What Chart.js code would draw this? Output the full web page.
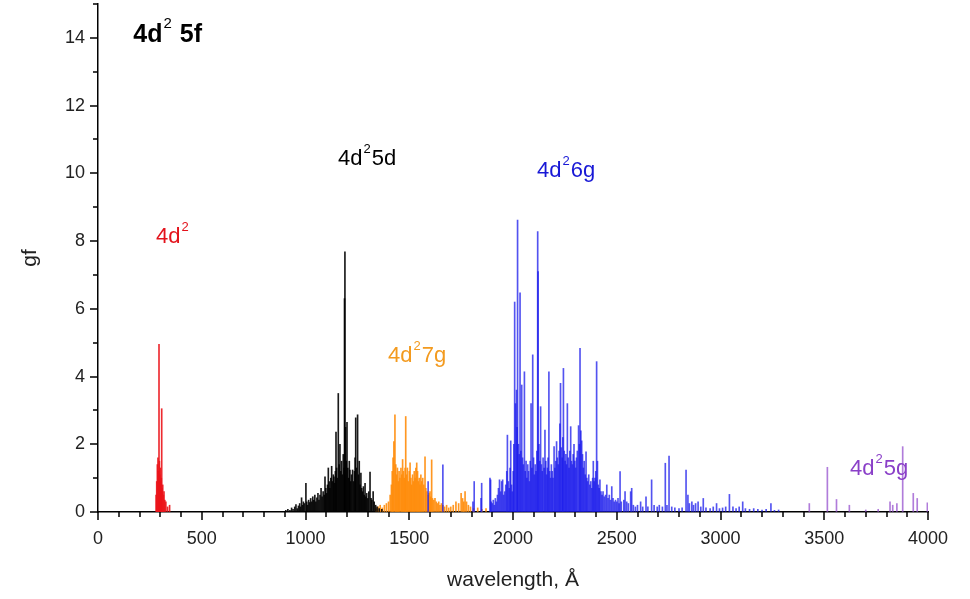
<!DOCTYPE html>
<html>
<head>
<meta charset="utf-8">
<script src="https://cdn.jsdelivr.net/npm/chart.js@4.4.1/dist/chart.umd.min.js"></script>
<style>
  html, body { margin: 0; padding: 0; background: #fff; }
  canvas { display: block; }
</style>
</head>
<body>
<canvas id="spectrum" width="970" height="599"></canvas>
<script>
// 4d2 (red)
var redWl = [280, 283, 286, 289, 291, 294, 296, 298, 300, 302, 305, 307, 309, 312, 315, 318, 322, 327, 335, 345];
var redGf = [0.5, 0.9, 1.4, 1.6, 1.2, 4.95, 1.5, 1.1, 1.3, 0.9, 1.0, 3.05, 0.7, 0.8, 0.5, 0.6, 0.35, 0.3, 0.15, 0.2];

// 4d2 5d (black)
var blackWl = [905, 915, 925, 933, 940, 948, 954, 960, 966, 972, 976, 981, 986, 990, 995, 1002, 1006, 1010, 1015, 1020,
  1025, 1030, 1035, 1040, 1045, 1050, 1055, 1060, 1065, 1070, 1075, 1080, 1085, 1090, 1094, 1098, 1102, 1106, 1110, 1114,
  1118, 1122, 1126, 1130, 1134, 1137, 1141, 1144, 1147, 1150, 1154, 1158, 1162, 1166, 1170, 1174, 1178, 1182, 1186, 1188,
  1190, 1193, 1196, 1200, 1204, 1208, 1211, 1214, 1218, 1222, 1227, 1232, 1236, 1239, 1242, 1246, 1251, 1255, 1259, 1263,
  1267, 1271, 1275, 1279, 1283, 1287, 1291, 1295, 1300, 1305, 1311, 1316, 1320, 1326, 1331, 1338, 1345, 1355, 1368];
var blackGf = [0.05, 0.08, 0.05, 0.12, 0.08, 0.15, 0.22, 0.1, 0.18, 0.25, 0.15, 0.42, 0.2, 0.3, 0.25, 0.85, 0.3, 0.2, 0.35, 0.28,
  0.4, 0.3, 0.45, 0.35, 0.5, 0.3, 0.42, 0.55, 0.35, 0.5, 0.7, 0.45, 0.6, 0.5, 1.04, 0.7, 0.55, 0.8, 1.3, 0.9,
  0.7, 1.0, 1.35, 0.9, 1.1, 1.04, 0.85, 1.2, 2.36, 1.3, 1.0, 3.5, 1.4, 2.0, 1.2, 1.5, 1.1, 1.7, 1.3, 6.3,
  7.68, 2.5, 1.5, 2.65, 1.3, 1.0, 1.5, 1.24, 0.9, 1.1, 1.24, 0.9, 1.2, 1.6, 2.78, 1.3, 2.87, 1.1, 1.5, 0.8,
  1.15, 0.7, 0.6, 0.75, 0.5, 0.85, 0.45, 0.55, 0.4, 0.6, 1.18, 0.4, 0.35, 0.6, 0.3, 0.2, 0.15, 0.1, 0.08];

// 4d2 7g (orange)
var orangeWl = [1340, 1350, 1360, 1370, 1380, 1390, 1400, 1408, 1414, 1418, 1422, 1426, 1431, 1435, 1439, 1443, 1447, 1451, 1455, 1460,
  1464, 1468, 1472, 1476, 1480, 1483, 1487, 1491, 1495, 1500, 1504, 1508, 1512, 1516, 1520, 1524, 1528, 1532, 1536, 1540,
  1544, 1548, 1552, 1556, 1560, 1565, 1570, 1576, 1580, 1585, 1591, 1596, 1600, 1604, 1608, 1612, 1618, 1624, 1630, 1636,
  1642, 1648, 1655, 1662, 1670, 1680, 1690, 1700, 1712, 1725, 1738, 1750, 1757, 1763, 1769, 1776, 1785, 1795, 1810, 1830, 1850, 1870];
var orangeGf = [0.1, 0.15, 0.2, 0.12, 0.2, 0.25, 0.3, 0.5, 0.8, 1.2, 1.6, 2.08, 2.87, 1.4, 1.1, 1.3, 0.9, 1.2, 1.0, 1.3,
  1.1, 1.55, 1.2, 1.0, 1.3, 2.82, 1.1, 1.3, 0.9, 1.2, 1.45, 1.0, 0.8, 1.1, 0.9, 1.2, 1.0, 1.3, 1.45, 1.2,
  0.9, 1.0, 0.8, 1.1, 0.9, 1.0, 0.8, 1.63, 0.7, 0.6, 0.5, 0.55, 0.6, 0.45, 1.54, 0.4, 0.35, 0.4, 0.3, 0.25,
  0.3, 0.2, 0.25, 0.2, 0.15, 0.2, 0.12, 0.15, 0.2, 0.3, 0.25, 0.55, 0.4, 0.3, 0.6, 0.3, 0.2, 0.15, 0.1, 0.12, 0.08, 0.1];

// 4d2 6g (blue)
var blueWl = [1591, 1662, 1807, 1813, 1846, 1849, 1889, 1892, 1895, 1900, 1905, 1910, 1915, 1920, 1925, 1930, 1935, 1940, 1945, 1950,
  1955, 1960, 1965, 1970, 1973, 1978, 1982, 1986, 1989, 1993, 1997, 2001, 2004, 2008, 2012, 2017, 2020, 2022, 2026, 2030,
  2034, 2038, 2042, 2046, 2050, 2055, 2059, 2063, 2067, 2071, 2075, 2079, 2083, 2087, 2091, 2095, 2099, 2103, 2107, 2111,
  2115, 2119, 2121, 2125, 2129, 2133, 2137, 2141, 2145, 2150, 2154, 2158, 2162, 2166, 2169, 2173, 2177, 2181, 2185, 2189,
  2193, 2198, 2202, 2206, 2210, 2214, 2218, 2222, 2226, 2229, 2233, 2237, 2240, 2243, 2247, 2251, 2255, 2258, 2262, 2266,
  2270, 2274, 2278, 2282, 2286, 2290, 2294, 2298, 2302, 2306, 2310, 2316, 2320, 2323, 2327, 2331, 2335, 2339, 2343, 2348,
  2352, 2356, 2360, 2365, 2370, 2375, 2380, 2384, 2387, 2391, 2395, 2399, 2403, 2407, 2411, 2415, 2419, 2424, 2429, 2434,
  2440, 2446, 2452, 2458, 2464, 2470, 2476, 2482, 2488, 2494, 2500, 2506, 2511, 2516, 2522, 2534, 2540, 2548, 2556, 2567,
  2572, 2580, 2590, 2600, 2615, 2625, 2641, 2650, 2668, 2680, 2695, 2705, 2720, 2734, 2742, 2752, 2765, 2780, 2800, 2815,
  2834, 2843, 2850, 2862, 2870, 2880, 2892, 2905, 2917, 2930, 2950, 2965, 2981, 2995, 3010, 3025, 3043, 3060, 3075, 3090,
  3107, 3120, 3140, 3160, 3180, 3200, 3220, 3243, 3260, 3280];
var blueGf = [0.9, 1.39, 0.3, 0.9, 0.4, 0.85, 1.0, 0.95, 0.3, 0.25, 0.35, 0.2, 0.4, 0.3, 0.5, 0.7, 0.95, 0.6, 0.9, 0.95,
  0.5, 0.6, 0.8, 1.2, 2.27, 0.9, 0.7, 1.3, 2.1, 0.8, 0.6, 1.2, 2.0, 6.2, 3.2, 3.6, 2.5, 8.62, 2.0, 1.7,
  6.47, 1.8, 3.75, 1.6, 1.4, 4.14, 1.2, 1.5, 1.0, 1.4, 1.2, 0.9, 1.5, 3.2, 1.3, 4.64, 1.6, 1.1, 1.4, 1.2,
  1.8, 8.28, 7.1, 2.0, 1.5, 3.11, 1.4, 1.2, 1.6, 1.3, 2.42, 1.5, 1.1, 1.3, 1.6, 4.14, 1.2, 1.0, 1.4, 1.2,
  1.0, 1.93, 1.3, 1.5, 2.08, 1.6, 1.4, 1.8, 2.6, 3.8, 1.9, 1.6, 2.2, 4.24, 1.8, 1.5, 1.7, 1.4, 3.2, 1.6,
  1.3, 1.8, 2.52, 1.5, 1.4, 1.7, 2.0, 1.5, 1.3, 1.6, 1.8, 2.55, 2.0, 4.83, 2.4, 2.1, 1.7, 1.3, 1.5, 1.1,
  1.78, 1.0, 0.9, 1.1, 0.8, 0.9, 0.7, 1.0, 1.5, 0.9, 1.0, 1.2, 4.44, 1.5, 0.8, 0.7, 0.95, 0.6, 0.5, 0.6,
  0.45, 0.5, 0.8, 0.4, 0.5, 0.35, 0.75, 0.4, 0.3, 0.35, 0.3, 0.4, 0.25, 1.19, 0.3, 0.35, 0.6, 0.3, 0.25, 0.6,
  0.7, 0.2, 0.15, 0.2, 0.3, 0.15, 0.45, 0.15, 0.95, 0.2, 0.15, 0.2, 0.15, 1.44, 0.2, 1.65, 0.15, 0.12, 0.1, 0.12,
  1.24, 0.5, 0.25, 0.3, 0.2, 0.25, 0.3, 0.15, 0.4, 0.12, 0.1, 0.15, 0.25, 0.1, 0.12, 0.15, 0.52, 0.15, 0.1, 0.15,
  0.3, 0.1, 0.08, 0.1, 0.08, 0.06, 0.08, 0.25, 0.05, 0.06];

// 4d2 5g (purple)
var purpleWl = [3428, 3515, 3559, 3621, 3700, 3760, 3817, 3830, 3850, 3878, 3929, 3948, 3997];
var purpleGf = [0.25, 1.32, 0.37, 0.2, 0.06, 0.08, 0.3, 0.2, 0.25, 1.93, 0.55, 0.4, 0.27];

// configuration labels: text parts, anchor wavelength, anchor gf
var labelNames = [['4d', '2', ' 5f'], ['4d', '2', ''], ['4d', '2', '5d'], ['4d', '2', '6g'], ['4d', '2', '7g'], ['4d', '2', '5g']];
var labelWl = [170, 280, 1157, 2116, 1398, 3624];
var labelGf = [13.88, 7.94, 10.25, 9.9, 4.43, 1.09];
var labelColors = ['#000000', '#e3121b', '#000000', '#1818d6', '#f39a1e', '#8a3fc8'];

var FONT = "'Liberation Sans', Arial, sans-serif";

function sticks(wl, gf) {
  return wl.map(function (w, i) { return { x: w, y: gf[i] }; });
}

function series(name, wl, gf, color) {
  return {
    label: name,
    data: sticks(wl, gf),
    backgroundColor: color,
    borderWidth: 0,
    barThickness: 1,
    grouped: false
  };
}

// all tick marks drawn here: majors long, minors short, pointing outward
var axisTicks = {
  id: 'axisTicks',
  afterDraw: function (chart) {
    var c = chart.ctx, xs = chart.scales.x, ys = chart.scales.y;
    var area = chart.chartArea;
    c.save();
    c.strokeStyle = '#000';
    c.lineWidth = 1.5;
    c.beginPath();
    for (var v = 0; v <= 4000; v += 100) {
      var len = v % 500 === 0 ? 8 : 5;
      var px = Math.round(xs.getPixelForValue(v));
      c.moveTo(px, area.bottom);
      c.lineTo(px, area.bottom + len);
    }
    for (var g = 0; g <= 15; g += 1) {
      var l = g % 2 === 0 ? 8 : 5;
      var py = Math.round(ys.getPixelForValue(g));
      c.moveTo(area.left, py);
      c.lineTo(area.left - l, py);
    }
    c.stroke();

    // configuration labels
    c.textBaseline = 'alphabetic';
    labelNames.forEach(function (parts, i) {
      var x = xs.getPixelForValue(labelWl[i]);
      var y = ys.getPixelForValue(labelGf[i]);
      var bold = i === 0;
      var size = bold ? 25 : 22;
      var base = (bold ? 'bold ' : '') + size + 'px ' + FONT;
      var sup = Math.round(size * 0.6) + 'px ' + FONT;
      c.fillStyle = labelColors[i];
      c.font = base;
      c.fillText(parts[0], x, y);
      x += c.measureText(parts[0]).width + 1;
      c.font = sup;
      c.fillText(parts[1], x, y - size * 0.55);
      x += c.measureText(parts[1]).width + 1;
      c.font = base;
      c.fillText(parts[2], x, y);
    });
    c.restore();
  }
};

var ctx = document.getElementById('spectrum').getContext('2d');
var spectrumChart = new Chart(ctx, {
  type: 'bar',
  data: {
    datasets: [
      series('4d2', redWl, redGf, 'rgba(235, 20, 25, 0.9)'),
      series('4d2 5d', blackWl, blackGf, 'rgba(0, 0, 0, 0.9)'),
      series('4d2 6g', blueWl, blueGf, 'rgba(25, 25, 235, 0.75)'),
      series('4d2 7g', orangeWl, orangeGf, 'rgba(255, 140, 10, 0.9)'),
      series('4d2 5g', purpleWl, purpleGf, 'rgba(150, 80, 205, 0.75)')
    ]
  },
  options: {
    responsive: false,
    animation: false,
    layout: { padding: { top: 4, right: 42, left: 0, bottom: 0 } },
    plugins: {
      legend: { display: false },
      tooltip: { enabled: false }
    },
    scales: {
      x: {
        type: 'linear',
        min: 0,
        max: 4000,
        offset: false,
        afterFit: function (scale) { scale.height = 87; },
        ticks: {
          stepSize: 500,
          maxRotation: 0,
          padding: 8,
          color: '#222',
          font: { family: FONT, size: 18 },
          callback: function (v) { return String(v); }
        },
        grid: { drawOnChartArea: false, tickLength: 8, tickColor: 'rgba(0,0,0,0)' },
        border: { color: '#000', width: 1.5 },
        title: {
          display: true,
          text: 'wavelength, Å',
          color: '#222',
          font: { family: FONT, size: 21 },
          padding: { top: 10, bottom: 6 }
        }
      },
      y: {
        min: 0,
        max: 15,
        afterFit: function (scale) { scale.width = 98; scale.paddingTop = 0; },
        ticks: {
          stepSize: 2,
          includeBounds: false,
          padding: 5,
          color: '#222',
          font: { family: FONT, size: 18 }
        },
        grid: { drawOnChartArea: false, tickLength: 8, tickColor: 'rgba(0,0,0,0)' },
        border: { color: '#000', width: 1.5 },
        title: {
          display: true,
          text: 'gf',
          color: '#222',
          font: { family: FONT, size: 21 },
          padding: { top: 18, bottom: 4 }
        }
      }
    }
  },
  plugins: [axisTicks]
});
</script>
</body>
</html>
